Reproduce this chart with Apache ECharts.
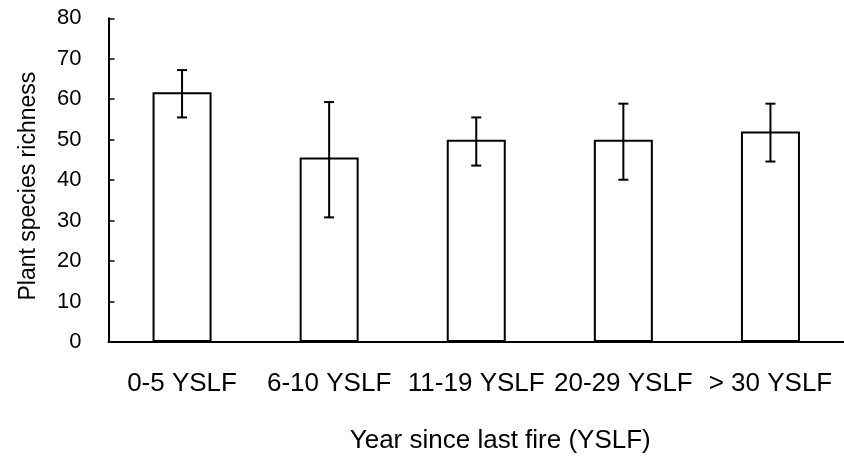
<!DOCTYPE html>
<html>
<head>
<meta charset="utf-8">
<script src="https://cdn.jsdelivr.net/npm/echarts@6/dist/echarts.min.js"></script>
<style>html,body{margin:0;padding:0;background:#fff;}#c{width:844px;height:459px;}</style>
</head>
<body>
<div id="c"></div>
<script>
const categories = ['0-5 YSLF', '6-10 YSLF', '11-19 YSLF', '20-29 YSLF', '> 30 YSLF'];
const means = [61.7, 45.6, 50.0, 50.0, 52.0];
const errUpper = [67.2, 59.3, 55.5, 58.9, 58.9];
const errLower = [55.5, 30.8, 43.6, 40.1, 44.6];
const yTicks = [0, 10, 20, 30, 40, 50, 60, 70, 80];

const FONT = '"Liberation Sans", Arial, sans-serif';
const chart = echarts.init(document.getElementById('c'));
const errData = categories.map((c, i) => [i, errLower[i], errUpper[i]]);

chart.setOption({
  animation: false,
  backgroundColor: '#fff',
  grid: { left: 108.5, top: 18.3, width: 743, height: 325, containLabel: false },
  xAxis: {
    type: 'category',
    data: categories,
    boundaryGap: true,
    axisLine: { lineStyle: { color: '#000', width: 2 } },
    axisTick: { inside: true, length: 6, lineStyle: { color: '#000', width: 2 } },
    axisLabel: { color: '#000', fontSize: 26, fontFamily: FONT, margin: 29, interval: 0, hideOverlap: false },
    name: 'Year since last fire (YSLF)',
    nameLocation: 'middle',
    nameGap: 86,
    nameTextStyle: { color: '#000', fontSize: 26, fontFamily: FONT, padding: [0, 0, 0, 48] }
  },
  yAxis: {
    type: 'value',
    min: yTicks[0],
    max: yTicks[yTicks.length - 1],
    interval: 10,
    splitLine: { show: false },
    axisLine: { show: true, lineStyle: { color: '#000', width: 2 } },
    axisTick: { show: true, inside: true, length: 6, lineStyle: { color: '#000', width: 1.5 } },
    axisLabel: { color: '#000', fontSize: 22, fontFamily: FONT, margin: 27 },
    name: 'Plant species richness',
    nameLocation: 'middle',
    nameGap: 68,
    nameRotate: 90,
    nameTextStyle: { color: '#000', fontSize: 23, fontFamily: FONT, padding: [0, 12, 0, 0] }
  },
  series: [
    {
      type: 'bar',
      data: means,
      barWidth: 59,
      itemStyle: { color: '#fff', borderColor: '#000', borderWidth: 2 }
    },
    {
      type: 'custom',
      data: errData,
      z: 10,
      renderItem: function (params, api) {
        const x = api.value(0);
        const lo = api.coord([x, api.value(1)]);
        const hi = api.coord([x, api.value(2)]);
        const hw = 5;
        const style = { stroke: '#000', lineWidth: 2 };
        return {
          type: 'group',
          children: [
            { type: 'line', shape: { x1: hi[0], y1: hi[1], x2: lo[0], y2: lo[1] }, style: style },
            { type: 'line', shape: { x1: hi[0] - hw, y1: hi[1], x2: hi[0] + hw, y2: hi[1] }, style: style },
            { type: 'line', shape: { x1: lo[0] - hw, y1: lo[1], x2: lo[0] + hw, y2: lo[1] }, style: style }
          ]
        };
      }
    }
  ]
});
</script>
</body>
</html>
